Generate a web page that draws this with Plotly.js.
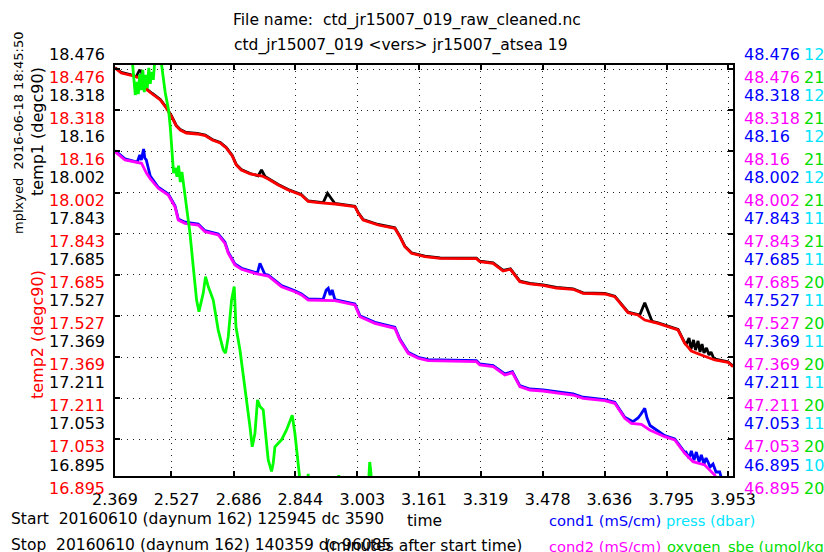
<!DOCTYPE html>
<html>
<head>
<meta charset="utf-8">
<script src="https://cdn.plot.ly/plotly-3.0.1.min.js"></script>
<style>html,body{margin:0;padding:0;background:#fff;}#chart{width:824px;height:552px;}</style>
</head>
<body>
<div id="chart"></div>
<script>
// ---- data (time in minutes after start) ----
const xTickLabels = ['2.369','2.527','2.686','2.844','3.003','3.161','3.319','3.478','3.636','3.795','3.953'];
const tempTickLabels = ['18.476','18.318','18.16','18.002','17.843','17.685','17.527','17.369','17.211','17.053','16.895'];
const condTickLabels = ['48.476','48.318','48.16','48.002','47.843','47.685','47.527','47.369','47.211','47.053','46.895'];
const pressTickLabels = ['12','12','12','12','11','11','11','11','11','11','10'];
const oxyTickLabels = ['21','21','21','21','21','20','20','20','20','20','20'];
const oxyRange = [19.95, 20.95];

const temp2Time = [2.369,2.3851,2.4082,2.433,2.4415,2.4517,2.4646,2.4851,2.5004,2.5132,2.526,2.5363,2.5517,2.5798,2.6003,2.6183,2.6388,2.6541,2.6695,2.6798,2.6926,2.7156,2.7464,2.7617,2.7874,2.813,2.8463,2.8642,2.8898,2.9334,2.9839,2.9923,3.0051,3.0435,3.0863,3.0991,3.1119,3.1289,3.1632,3.2024,3.2954,3.3041,3.3382,3.3638,3.3825,3.4066,3.4322,3.4663,3.5003,3.5431,3.5687,3.6243,3.65,3.6669,3.684,3.7096,3.7268,3.7609,3.7865,3.8121,3.8293,3.8462,3.8718,3.9061,3.9402,3.953];
const temp2 = [18.4645,18.4452,18.4375,18.426,18.4106,18.3798,18.3644,18.3414,18.3106,18.2798,18.2414,18.226,18.2144,18.2106,18.2048,18.1875,18.176,18.1567,18.126,18.0913,18.0721,18.0567,18.049,18.0375,18.0144,17.9952,17.9759,17.9509,17.9463,17.9413,17.9309,17.9067,17.8798,17.8605,17.8478,17.8155,17.777,17.7517,17.7386,17.7324,17.7309,17.7193,17.7132,17.6836,17.6901,17.6424,17.6336,17.6286,17.6182,17.6132,17.5978,17.5951,17.5847,17.5528,17.5232,17.5143,17.4951,17.4824,17.4693,17.4566,17.4054,17.3758,17.3605,17.3412,17.3324,17.3155];

const temp1Time = [2.369,2.3851,2.4082,2.4236,2.4313,2.4364,2.4415,2.4517,2.4646,2.4851,2.5004,2.5132,2.526,2.5363,2.5517,2.5798,2.6003,2.6183,2.6388,2.6541,2.6695,2.6798,2.6926,2.7156,2.7361,2.7446,2.7533,2.7617,2.7874,2.813,2.8463,2.8642,2.8898,2.9026,2.9137,2.9326,2.9839,2.9923,3.0051,3.0435,3.0863,3.0991,3.1119,3.1289,3.1632,3.2024,3.2954,3.3041,3.3382,3.3638,3.3825,3.4066,3.4322,3.4663,3.5003,3.5431,3.5687,3.6243,3.65,3.6669,3.684,3.7096,3.714,3.7268,3.7455,3.7609,3.7865,3.8121,3.8293,3.8326,3.8403,3.8454,3.8518,3.8569,3.8634,3.8685,3.8736,3.8787,3.8851,3.8915,3.8967,3.9044,3.9402,3.953];
const temp1 = [18.4665,18.4472,18.4395,18.4310,18.4548,18.4529,18.4180,18.3818,18.3664,18.3434,18.3126,18.2818,18.2434,18.2280,18.2164,18.2126,18.2068,18.1895,18.1780,18.1587,18.1280,18.0933,18.0741,18.0587,18.0500,18.0721,18.0470,18.0395,18.0164,17.9972,17.9779,17.9529,17.9483,17.9470,17.9825,17.9433,17.9329,17.9087,17.8818,17.8625,17.8498,17.8175,17.7790,17.7537,17.7406,17.7344,17.7329,17.7213,17.7152,17.6856,17.6921,17.6444,17.6356,17.6306,17.6202,17.6152,17.5998,17.5971,17.5867,17.5548,17.5252,17.5163,17.5140,17.5616,17.4900,17.4844,17.4713,17.4586,17.4074,17.4000,17.4259,17.3835,17.4182,17.3797,17.4143,17.3720,17.4028,17.3682,17.3874,17.3605,17.3720,17.3451,17.3344,17.3175];

const cond2Time = [2.369,2.3946,2.4371,2.45,2.4587,2.4799,2.5055,2.5227,2.5312,2.5483,2.5824,2.5996,2.6336,2.6508,2.6593,2.6764,2.6933,2.7277,2.7617,2.7958,2.8301,2.847,2.8642,2.9326,2.9839,2.9967,3.0351,3.0863,3.0991,3.1204,3.146,3.1716,3.2954,3.3041,3.3382,3.3681,3.3876,3.4066,3.4322,3.4663,3.509,3.5431,3.5687,3.6243,3.65,3.6756,3.6925,3.7181,3.7396,3.778,3.8037,3.8293,3.8505,3.8805,3.906,3.9197,3.953];
const cond2 = [48.1425,48.1106,48.0979,48.0594,48.0402,48.0017,47.9759,47.9309,47.8798,47.8671,47.8605,47.8348,47.8221,47.7901,47.7517,47.7067,47.6901,47.6747,47.6643,47.6232,47.6039,47.5913,47.572,47.5693,47.5528,47.5078,47.4824,47.4632,47.4182,47.367,47.3478,47.3385,47.3347,47.322,47.3155,47.2835,47.2924,47.2385,47.2258,47.222,47.2131,47.2066,47.1939,47.1847,47.1747,47.117,47.0977,47.0939,47.072,47.0462,47.0335,46.9823,46.95,46.9373,46.8989,46.8604,46.822];

const cond1Time = [2.369,2.3946,2.4261,2.4325,2.4364,2.4423,2.4453,2.4492,2.4543,2.4594,2.4799,2.5055,2.5227,2.5312,2.5483,2.5824,2.5996,2.6336,2.6508,2.6593,2.6764,2.6933,2.7277,2.7343,2.7405,2.7533,2.7617,2.7958,2.8301,2.847,2.8642,2.9026,2.9104,2.9155,2.9206,2.9257,2.9326,2.9839,2.9967,3.0351,3.0863,3.0991,3.1204,3.146,3.1716,3.2954,3.3041,3.3382,3.3681,3.3876,3.4066,3.4322,3.4663,3.509,3.5431,3.5687,3.6243,3.65,3.6756,3.6968,3.7096,3.7173,3.7268,3.7327,3.7404,3.778,3.8037,3.8293,3.8326,3.8403,3.8462,3.8531,3.859,3.8659,3.8718,3.8787,3.8839,3.889,3.8941,3.9018,3.9095,3.9189,3.9248,3.953];
const cond1 = [48.1465,48.1146,48.1029,48.1298,48.1106,48.1529,48.1183,48.1106,48.0798,48.0490,48.0057,47.9799,47.9349,47.8838,47.8711,47.8645,47.8388,47.8261,47.7941,47.7557,47.7107,47.6941,47.6787,47.6778,47.7132,47.6701,47.6683,47.6272,47.6079,47.5953,47.5760,47.5747,47.6105,47.6170,47.5913,47.6105,47.5733,47.5568,47.5118,47.4864,47.4672,47.4222,47.3710,47.3518,47.3425,47.3387,47.3260,47.3195,47.2875,47.2964,47.2425,47.2298,47.2260,47.2171,47.2106,47.1979,47.1887,47.1787,47.1210,47.1039,47.1182,47.1335,47.1554,47.1182,47.0892,47.0502,47.0375,46.9863,46.9873,46.9642,46.9912,46.9566,46.9873,46.9489,46.9758,46.9412,46.9642,46.9489,46.9296,46.9412,46.9104,46.9104,46.8796,46.841];

const oxyTime = [2.4120,2.4172,2.4210,2.4249,2.4287,2.4325,2.4364,2.4402,2.4441,2.4479,2.4517,2.4556,2.4594,2.4633,2.4671,2.4722,2.4851,2.4979,2.5063,2.5107,2.515,2.5191,2.5236,2.5278,2.5320,2.5363,2.5406,2.5491,2.5611,2.5696,2.5781,2.5842,2.5901,2.5952,2.6011,2.608,2.6208,2.6336,2.6465,2.6523,2.6593,2.6677,2.6746,2.679,2.6892,2.702,2.7149,2.7207,2.7277,2.7343,2.7405,2.7489,2.7617,2.7702,2.7745,2.7789,2.7958,2.8086,2.8232,2.8301,2.843,2.8488,2.8617,2.8642,2.8668,2.9398,2.9424,2.9449,3.0179,3.0218,3.0243,3.0282,3.953];
const oxygen = [20.974,20.918,20.877,20.909,20.879,20.928,20.889,20.938,20.884,20.926,20.894,20.943,20.904,20.933,20.914,20.974,20.974,20.882,20.8405,20.799,20.735,20.687,20.700,20.678,20.705,20.665,20.690,20.630,20.541,20.459,20.378,20.350,20.378,20.395,20.435,20.411,20.378,20.305,20.257,20.249,20.289,20.378,20.411,20.313,20.257,20.167,20.070,20.021,20.054,20.135,20.119,20.111,19.989,19.961,19.981,20.021,20.038,20.062,20.098,20.054,19.940,19.916,19.916,19.955,19.916,19.916,19.952,19.916,19.916,19.984,19.965,19.916,19.900];

// ---- layout helpers (pixel -> paper) ----
const L = 115, R = 4, T = 65, Bm = 76, W = 824, H = 552;
const PW = W - L - R, PH = H - T - Bm;
const boxRight = 733;
const dEnd = (boxRight - L) / PW;
const px = x => (x - L) / PW;
const py = y => ((H - Bm) - y) / PH;
const FONT = 'DejaVu Sans';
const lin = (r, n) => Array.from({length: n}, (_, k) => r[1] - k * (r[1] - r[0]) / (n - 1));
const num = a => a.map(Number);

const tempRange = [16.895, 18.476];
const condRange = [46.895, 48.476];
const xRange = [2.369, 3.953];
// the dotted grid / tick marks sit a few pixels off the frame, as in the original
const gridXRange = [2.3826, 3.9648];
const gridYRange = [16.9115, 18.4925];

const traces = [
  {x: [], y: [], xaxis: 'x2', yaxis: 'y3', mode: 'lines', hoverinfo: 'skip', showlegend: false},
  {x: temp1Time, y: temp1, xaxis: 'x', yaxis: 'y', mode: 'lines', line: {color: '#000000', width: 2.8}, name: 'temp1'},
  {x: temp2Time, y: temp2, xaxis: 'x', yaxis: 'y', mode: 'lines', line: {color: '#ff0000', width: 2.8}, name: 'temp2'},
  {x: cond1Time, y: cond1, xaxis: 'x', yaxis: 'y4', mode: 'lines', line: {color: '#0000ff', width: 2.8}, name: 'cond1'},
  {x: cond2Time, y: cond2, xaxis: 'x', yaxis: 'y4', mode: 'lines', line: {color: '#ff00ff', width: 2.8}, name: 'cond2'},
  {x: oxyTime, y: oxygen, xaxis: 'x', yaxis: 'y7', mode: 'lines', line: {color: '#00ff00', width: 2.8}, name: 'oxygen_sbe'}
];

function ann(text, x, y, opts) {
  return Object.assign({text: text, x: px(x), y: py(y), xref: 'paper', yref: 'paper',
    showarrow: false, xanchor: 'left', yanchor: 'middle',
    font: {family: FONT, size: 15.5, color: '#000'}}, opts || {});
}
function tickAnn(text, yval, yref, xPix, anchor, shift, color) {
  return {text: text, x: px(xPix), y: yval, xref: 'paper', yref: yref, yshift: shift,
    showarrow: false, xanchor: anchor, yanchor: 'middle', borderpad: 0,
    font: {family: FONT, size: 16, color: color}};
}
const nb = '\u00a0';

const annotations = [
  ann('File name:' + nb + nb + 'ctd_jr15007_019_raw_cleaned.nc', 231, 21),
  ann('ctd_jr15007_019 &lt;vers&gt; jr15007_atsea' + nb + '19', 232, 45),
  ann('mplxyed' + nb + nb + '2016-06-18 18:45:50', 18, 133, {textangle: -90, xanchor: 'center', font: {family: FONT, size: 13, color: '#000'}}),
  ann('temp1 (degc90)', 37, 132, {textangle: -90, xanchor: 'center', font: {family: FONT, size: 16, color: '#000'}}),
  ann('temp2 (degc90)', 37, 335, {textangle: -90, xanchor: 'center', font: {family: FONT, size: 16, color: '#ff0000'}}),
  ann('Start' + nb + nb + '20160610 (daynum 162) 125945 dc 3590', 9, 519),
  ann('Stop' + nb + nb + '20160610 (daynum 162) 140359 dc 96085', 9, 545),
  ann('time', 424, 521, {xanchor: 'center'}),
  ann('(minutes after start time)', 423, 546, {xanchor: 'center'}),
  ann('cond1 (mS/cm)', 547, 520, {font: {family: FONT, size: 14.7, color: '#0000ff'}}),
  ann('press (dbar)', 664, 520, {font: {family: FONT, size: 14.7, color: '#00e5ff'}}),
  ann('cond2 (mS/cm)', 547, 546, {font: {family: FONT, size: 14.7, color: '#ff00ff'}}),
  ann('oxygen_sbe (umol/kg)', 665, 546, {font: {family: FONT, size: 14.7, color: '#00dd00'}})
];
const tempVals = num(tempTickLabels), condVals = num(condTickLabels), oxyVals = lin(oxyRange, oxyTickLabels.length);
tempTickLabels.forEach((t, k) => {
  annotations.push(tickAnn(t, tempVals[k], 'y', 106, 'right', 11, '#000000'));
  annotations.push(tickAnn(t, tempVals[k], 'y', 106, 'right', -12, '#ff0000'));
});
condTickLabels.forEach((t, k) => {
  annotations.push(tickAnn(t, condVals[k], 'y4', 743, 'left', 11, '#0000ff'));
  annotations.push(tickAnn(t, condVals[k], 'y4', 743, 'left', -12, '#ff00ff'));
});
pressTickLabels.forEach((t, k) => {
  annotations.push(tickAnn(t, 1 - k / (pressTickLabels.length - 1), 'paper', 802.5, 'left', 11, '#00e5ff'));
});
oxyTickLabels.forEach((t, k) => {
  annotations.push(tickAnn(t, oxyVals[k], 'y7', 802.5, 'left', -12, '#00dd00'));
});

const hidden = {showgrid: false, zeroline: false, ticks: '', showline: false, showticklabels: false, fixedrange: true};

const layout = {
  width: W, height: H,
  margin: {l: L, r: R, t: T, b: Bm, pad: 0},
  paper_bgcolor: '#fff', plot_bgcolor: '#fff',
  showlegend: false,
  font: {family: FONT, size: 16, color: '#000'},
  xaxis: {domain: [0, dEnd], range: xRange, tickmode: 'array', tickvals: num(xTickLabels), ticktext: xTickLabels,
    showgrid: false, zeroline: false, ticks: '', showline: true, mirror: true, linecolor: '#000', linewidth: 2,
    tickfont: {family: FONT, size: 16, color: '#000'}, ticklabelstandoff: 8, ticklabeloverflow: 'allow', fixedrange: true},
  xaxis2: {overlaying: 'x', anchor: 'y3', range: gridXRange, tickmode: 'array', tickvals: num(xTickLabels),
    showticklabels: false, showgrid: true, gridcolor: '#222', gridwidth: 1, griddash: '1px,5px', zeroline: false,
    ticks: 'inside', ticklen: 5, tickwidth: 2, tickcolor: '#000', showline: true, linecolor: 'rgba(0,0,0,0)', mirror: 'ticks', fixedrange: true},
  yaxis: {domain: [0, 1], range: tempRange, showgrid: false, zeroline: false, ticks: '', showticklabels: false,
    showline: true, mirror: true, linecolor: '#000', linewidth: 2, fixedrange: true},
  yaxis3: {overlaying: 'y', anchor: 'x2', side: 'left', range: gridYRange, tickmode: 'array', tickvals: tempVals,
    showticklabels: false, showgrid: true, gridcolor: '#222', gridwidth: 1, griddash: '1px,5px', zeroline: false,
    ticks: 'inside', ticklen: 5, tickwidth: 2, tickcolor: '#000', showline: true, linecolor: 'rgba(0,0,0,0)', mirror: 'ticks', fixedrange: true},
  yaxis4: Object.assign({overlaying: 'y', side: 'right', anchor: 'x', range: condRange}, hidden),
  yaxis7: Object.assign({overlaying: 'y', side: 'right', anchor: 'x', range: oxyRange}, hidden),
  annotations: annotations
};

Plotly.newPlot('chart', traces, layout, {staticPlot: true, displayModeBar: false});
</script>
</body>
</html>
